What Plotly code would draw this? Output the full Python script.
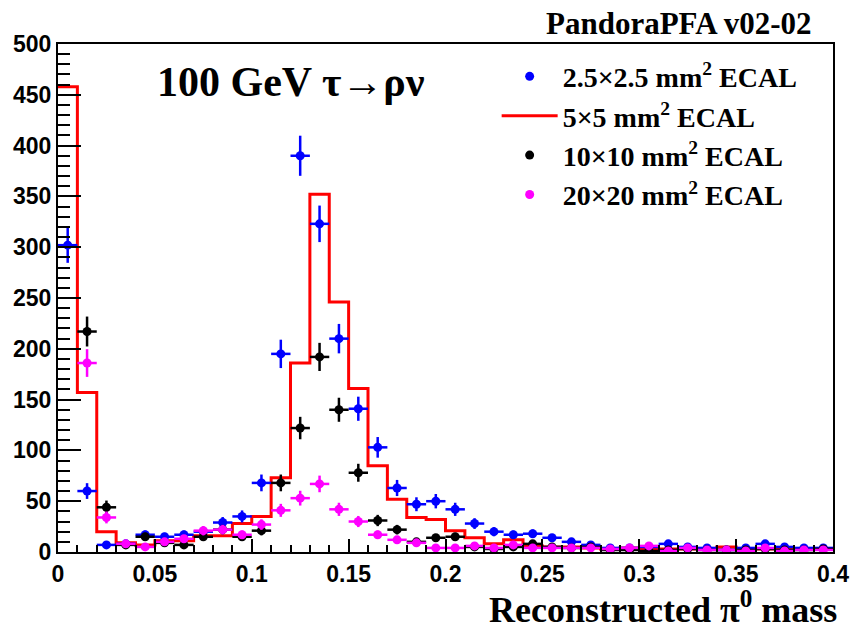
import numpy as np
import plotly.graph_objects as go

# bin layout (40 bins of width 0.01 from 0 to 0.4)
bin_width = 0.01
bin_lo = [round(i * bin_width, 2) for i in range(40)]
bin_centers = [round(b + bin_width / 2, 3) for b in bin_lo]

# 2.5x2.5 mm2 ECAL (blue points)
blue_vals = [302, 60, 7, 8, 17, 15, 17, 20, 29, 35,
             68, 195, 390, 323, 210, 141, 103, 63, 47, 50,
             42, 28, 20, 17, 18, 14, 10, 7, 4, 4,
             5, 8, 5, 4, 2, 4, 8, 5, 4, 4]

# 5x5 mm2 ECAL (red histogram)
red_vals = [458, 157, 20, 9, 7, 11, 11, 16, 16, 28,
            35, 73, 186, 352, 246, 161, 85, 52, 34, 32,
            21, 14, 8, 12, 6, 5, 5, 4, 3, 4,
            3, 3, 3, 3, 5, 3, 3, 3, 3, 3]

# 10x10 mm2 ECAL (black points)
black_vals = [None, 217, 44, 7, 15, 9, 7, 15, 22, 15,
              21, 68, 122, 192, 140, 78, 31, 22, 10, 14,
              15, 5, 3, 5, 8, 5, 4, 5, 2, 2,
              1, 2, 3, 2, 2, 2, 3, 2, 2, 3]

# 20x20 mm2 ECAL (magenta points)
magenta_vals = [None, 186, 34, 8, 5, 10, 13, 21, 22, 17,
                27, 41, 53, 67, 42, 30, 17, 12, 9, 4,
                4, 6, 4, 7, 4, 4, 4, 4, 3, 4,
                6, 1, 4, 2, 2, 1, 4, 1, 2, 2]

legend_names = ["2.5\u00d72.5 mm<sup>2</sup> ECAL", "5\u00d75 mm<sup>2</sup> ECAL",
                "10\u00d710 mm<sup>2</sup> ECAL", "20\u00d720 mm<sup>2</sup> ECAL"]

SERIF = "Liberation Serif"
SANS = "Liberation Sans"

def err(vals):
    return [None if v is None else float(np.sqrt(v)) for v in vals]

def point_trace(vals, color, name, rank):
    return go.Scatter(
        x=bin_centers, y=vals, mode="markers", name=name,
        legendgroup=name, legendrank=rank,
        marker=dict(color=color, size=9, symbol="circle"),
        error_y=dict(type="data", array=err(vals), color=color, thickness=2.5, width=0),
        error_x=dict(type="constant", value=bin_width / 2, color=color, thickness=2.5, width=0),
    )

fig = go.Figure()

# red step histogram
edges = bin_lo + [0.4]
fig.add_trace(go.Scatter(
    x=edges, y=red_vals + [red_vals[-1]], mode="lines", line_shape="hv",
    line=dict(color="#ff0000", width=3), name=legend_names[1],
    legendgroup="red", legendrank=2,
))
fig.add_trace(point_trace(blue_vals, "#0000ff", legend_names[0], 1))
fig.add_trace(point_trace(black_vals, "#000000", legend_names[2], 3))
fig.add_trace(point_trace(magenta_vals, "#ff00ff", legend_names[3], 4))

tickfont = dict(family=SANS, size=23, color="black", weight="bold")

fig.update_layout(
    width=861, height=631,
    margin=dict(l=58, r=25, t=44, b=79),
    plot_bgcolor="white", paper_bgcolor="white",
    showlegend=True,
    legend=dict(
        x=0.566, y=0.985, xanchor="left", yanchor="top",
        font=dict(family=SERIF, size=28, color="black", weight="bold"),
        bgcolor="rgba(0,0,0,0)", tracegroupgap=0, itemwidth=56,
    ),
    xaxis=dict(
        range=[0, 0.4], showgrid=False, zeroline=False,
        showline=True, linecolor="black", linewidth=2, mirror=True,
        ticks="inside", ticklen=13, tickwidth=1.5, tickcolor="black",
        dtick=0.05, tick0=0, tickfont=tickfont,
        minor=dict(ticks="inside", ticklen=7, dtick=0.01, tickwidth=1.5, tickcolor="black"),
    ),
    yaxis=dict(
        range=[0, 500], showgrid=False, zeroline=False,
        showline=True, linecolor="black", linewidth=2, mirror=True,
        ticks="inside", ticklen=23, tickwidth=1.5, tickcolor="black",
        dtick=50, tick0=0, tickfont=tickfont,
        minor=dict(ticks="inside", ticklen=12, dtick=10, tickwidth=1.5, tickcolor="black"),
    ),
    annotations=[
        dict(text="PandoraPFA v02-02", xref="paper", yref="paper",
             x=0.976, y=1.04, xanchor="right", yanchor="middle", showarrow=False,
             font=dict(family=SERIF, size=31, color="black", weight="bold")),
        dict(text="100 GeV \u03c4\u2192\u03c1\u03bd", xref="paper", yref="paper",
             x=0.125, y=0.925, xanchor="left", yanchor="middle", showarrow=False,
             font=dict(family=SERIF, size=42, color="black", weight="bold")),
        dict(text="Reconstructed \u03c0<sup>0</sup> mass", xref="paper", yref="paper",
             x=1.008, y=-0.11, xanchor="right", yanchor="middle", showarrow=False,
             font=dict(family=SERIF, size=36, color="black", weight="bold")),
    ],
)

fig.write_html("out.html")
